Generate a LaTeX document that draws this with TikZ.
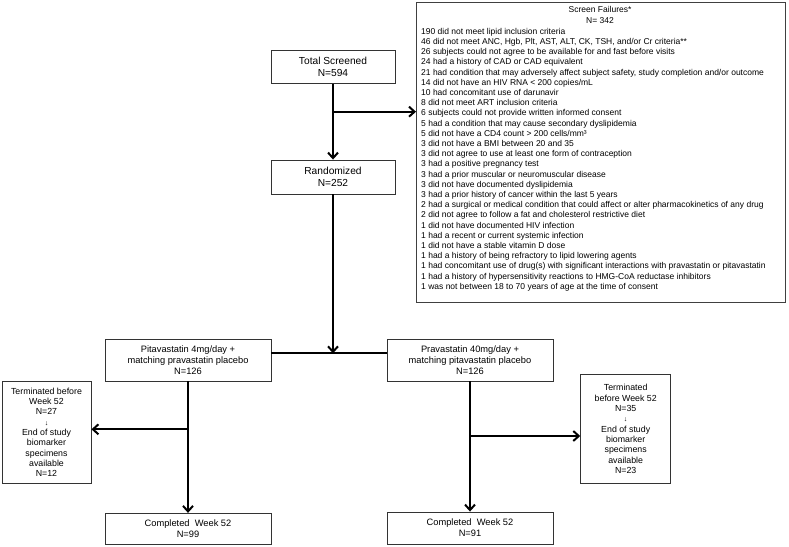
\documentclass[tikz,border=0pt]{standalone}
\usepackage{fontspec}
\setmainfont{Liberation Sans}
\usetikzlibrary{arrows.meta}
\begin{document}
\begin{tikzpicture}[x=1pt,y=-1pt,
  box/.style={draw=black!80,line width=0.9pt,inner sep=0pt,align=center,font=\fontsize{9.3}{11}\selectfont},
  topbox/.style={box,font=\fontsize{10.2}{11.7}\selectfont},
  tbox/.style={box,font=\fontsize{8.8}{10.3}\selectfont},
  conn/.style={line width=2.2pt,-{Straight Barb[length=5.5pt,width=10pt,line width=2pt]}},
  plain/.style={line width=2.2pt},
  sftext/.style={inner sep=0pt,font=\fontsize{8.5}{10.2}\selectfont}]
\useasboundingbox (0,0) rectangle (789,546);
% screen failures box
\node[draw=black!75,line width=1.3pt,minimum width=369pt,minimum height=300pt,anchor=north west,inner sep=0pt] (sf) at (416,2) {};
\node[sftext,align=center,font=\fontsize{8.5}{11}\selectfont,anchor=north] (sftitle) at (600,6) {Screen Failures*\\N= 342};
\node[sftext,align=left,anchor=north west] (sflist) at (421,28) {190 did not meet lipid inclusion criteria\\
46 did not meet ANC, Hgb, Plt, AST, ALT, CK, TSH, and/or Cr criteria**\\
26 subjects could not agree to be available for and fast before visits\\
24 had a history of CAD or CAD equivalent\\
21 had condition that may adversely affect subject safety, study completion and/or outcome\\
14 did not have an HIV RNA < 200 copies/mL\\
10 had concomitant use of darunavir\\
8 did not meet ART inclusion criteria\\
6 subjects could not provide written informed consent\\
5 had a condition that may cause secondary dyslipidemia\\
5 did not have a CD4 count > 200 cells/mm³\\
3 did not have a BMI between 20 and 35\\
3 did not agree to use at least one form of contraception\\
3 had a positive pregnancy test\\
3 had a prior muscular or neuromuscular disease\\
3 did not have documented dyslipidemia\\
3 had a prior history of cancer within the last 5 years\\
2 had a surgical or medical condition that could affect or alter pharmacokinetics of any drug\\
2 did not agree to follow a fat and cholesterol restrictive diet\\
1 did not have documented HIV infection\\
1 had a recent or current systemic infection\\
1 did not have a stable vitamin D dose\\
1 had a history of being refractory to lipid lowering agents\\
1 had concomitant use of drug(s) with significant interactions with pravastatin or pitavastatin\\
1 had a history of hypersensitivity reactions to HMG-CoA reductase inhibitors\\
1 was not between 18 to 70 years of age at the time of consent};
% main flow
\node[topbox,minimum width=124pt,minimum height=33pt] (total) at (333,66.7) {Total Screened\\N=594};
\node[topbox,minimum width=124pt,minimum height=34pt] (rand) at (333,177) {Randomized\\N=252};
\node[box,minimum width=166pt,minimum height=42pt] (pita) at (188,360) {Pitavastatin 4mg/day +\\matching pravastatin placebo\\N=126};
\node[box,minimum width=166pt,minimum height=42pt] (prava) at (470,360) {Pravastatin 40mg/day +\\matching pitavastatin placebo\\N=126};
\node[tbox,minimum width=89pt,minimum height=101.5pt] (termL) at (46.5,432.3) {Terminated before\\Week 52\\N=27\\{\fontsize{7}{8}\selectfont ↓}\\End of study\\biomarker\\specimens\\available\\N=12};
\node[tbox,minimum width=90pt,minimum height=108.6pt] (termR) at (625.7,429) {Terminated\\before Week 52\\N=35\\{\fontsize{7}{8}\selectfont ↓}\\End of study\\biomarker\\specimens\\available\\N=23};
\node[box,minimum width=166pt,minimum height=31pt] (compL) at (188,528.8) {Completed~~Week 52\\N=99};
\node[box,minimum width=166pt,minimum height=32pt] (compR) at (470,528) {Completed~~Week 52\\N=91};
% connectors
\coordinate (b1) at (333,111.7);
\coordinate (j) at (333,353.3);
\coordinate (bl) at (188,429.3);
\coordinate (br) at (470,436);
\draw[conn] (total.south) -- (rand.north);
\draw[conn] (b1) -- (sf.west |- b1);
\draw[conn] (rand.south) -- (j);
\draw[plain] (pita.east |- j) -- (prava.west |- j);
\draw[conn] (pita.south) -- (compL.north);
\draw[conn] (bl) -- (termL.east |- bl);
\draw[conn] (prava.south) -- (compR.north);
\draw[conn] (br) -- (termR.west |- br);
\end{tikzpicture}
\end{document}
